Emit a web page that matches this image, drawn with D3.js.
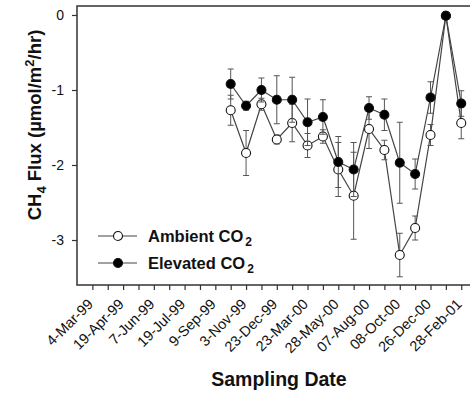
<!DOCTYPE html>
<html>
<head>
<meta charset="utf-8">
<script src="https://cdn.jsdelivr.net/npm/d3@7"></script>
<style>
  body { margin: 0; background: #fff; }
  svg { display: block; font-family: "Liberation Sans", Arial, sans-serif; }
</style>
</head>
<body>
<div id="chart"></div>
<script>
// categorias do eixo x (25 posições, rótulo em posições pares)
const tickLabels = ["4-Mar-99", "", "19-Apr-99", "", "7-Jun-99", "", "19-Jul-99", "", "9-Sep-99", "",
    "3-Nov-99", "", "23-Dec-99", "", "23-Mar-00", "", "28-May-00", "", "07-Aug-00", "",
    "08-Oct-00", "", "26-Dec-00", "", "28-Feb-01"];

// posições das coletas no eixo
const sampleSlots = [9, 10, 11, 12, 13, 14, 15, 16, 17, 18, 19, 20, 21, 22, 23, 24];

const ambient = [-1.27, -1.84, -1.19, -1.66, -1.44, -1.74, -1.62, -2.06, -2.41, -1.52, -1.80, -3.20, -2.84, -1.60, -0.01, -1.44];
const ambientErr = [0.20, 0.30, 0.08, 0.06, 0.25, 0.16, 0.09, 0.36, 0.58, 0.26, 0.13, 0.29, 0.16, 0.14, 0.02, 0.21];

const elevated = [-0.92, -1.21, -1.00, -1.13, -1.13, -1.43, -1.36, -1.96, -2.06, -1.24, -1.33, -1.97, -2.12, -1.10, -0.01, -1.18];
const elevatedErr = [0.20, 0.06, 0.16, 0.32, 0.30, 0.31, 0.23, 0.34, 0.36, 0.15, 0.21, 0.54, 0.20, 0.21, 0.02, 0.17];

const yTicks = [0, -1, -2, -3];

const width = 470;
const height = 397;
const margin = { top: 6, right: -2, bottom: 112, left: 77 };

const svg = d3.select("#chart")
    .append("svg")
    .attr("width", width)
    .attr("height", height);

const xScale = d3.scaleLinear()
    .domain([-1, 24.7])
    .range([margin.left, width - margin.right]);

const yScale = d3.scaleLinear()
    .domain([-3.6, 0.12])
    .range([height - margin.bottom, margin.top]);

const axisColor = "#333";

// eixo y
const yAxis = d3.axisLeft(yScale)
    .tickValues(yTicks)
    .tickFormat(d => d)
    .tickSize(5)
    .tickPadding(8);

const gy = svg.append("g")
    .attr("transform", `translate(${margin.left},0)`)
    .call(yAxis);
gy.select(".domain").remove();
gy.selectAll("line").attr("stroke", axisColor).attr("stroke-width", 1.2);
gy.selectAll("text")
    .attr("fill", "#111")
    .style("font-size", "14px")
    .style("font-family", "inherit");

// eixo x
const xAxis = d3.axisBottom(xScale)
    .tickValues(d3.range(tickLabels.length))
    .tickFormat(i => tickLabels[i])
    .tickSize(5)
    .tickPadding(4);

const gx = svg.append("g")
    .attr("transform", `translate(0,${height - margin.bottom})`)
    .call(xAxis);
gx.select(".domain").remove();
gx.selectAll("line").attr("stroke", axisColor).attr("stroke-width", 1.2);
gx.selectAll("text")
    .attr("fill", "#111")
    .style("font-size", "14.5px")
    .style("font-family", "inherit")
    .attr("text-anchor", "end")
    .attr("y", 0)
    .attr("dy", 0)
    .attr("transform", "translate(1,20) rotate(-45)");

// moldura
svg.append("rect")
    .attr("x", margin.left)
    .attr("y", margin.top)
    .attr("width", width - margin.right - margin.left)
    .attr("height", height - margin.bottom - margin.top)
    .attr("fill", "none")
    .attr("stroke", axisColor)
    .attr("stroke-width", 1.5);

function drawSeries(values, errs, filled) {
    const pts = values.map((v, i) => ({ x: sampleSlots[i], v: v, e: errs[i] }));
    const g = svg.append("g");

    const line = d3.line()
        .x(d => xScale(d.x))
        .y(d => yScale(d.v));

    g.append("path")
        .datum(pts)
        .attr("fill", "none")
        .attr("stroke", "#444")
        .attr("stroke-width", 1.2)
        .attr("d", line);

    const eb = g.selectAll(".err")
        .data(pts)
        .enter()
        .append("g")
        .attr("class", "err")
        .attr("stroke", "#555")
        .attr("stroke-width", 1);

    eb.append("line")
        .attr("x1", d => xScale(d.x))
        .attr("x2", d => xScale(d.x))
        .attr("y1", d => yScale(d.v + d.e))
        .attr("y2", d => yScale(d.v - d.e));
    eb.append("line")
        .attr("x1", d => xScale(d.x) - 3)
        .attr("x2", d => xScale(d.x) + 3)
        .attr("y1", d => yScale(d.v + d.e))
        .attr("y2", d => yScale(d.v + d.e));
    eb.append("line")
        .attr("x1", d => xScale(d.x) - 3)
        .attr("x2", d => xScale(d.x) + 3)
        .attr("y1", d => yScale(d.v - d.e))
        .attr("y2", d => yScale(d.v - d.e));

    g.selectAll("circle")
        .data(pts)
        .enter()
        .append("circle")
        .attr("cx", d => xScale(d.x))
        .attr("cy", d => yScale(d.v))
        .attr("r", 4.5)
        .attr("fill", filled ? "#000" : "#fff")
        .attr("stroke", "#111")
        .attr("stroke-width", 1.1);
}

drawSeries(ambient, ambientErr, false);
drawSeries(elevated, elevatedErr, true);

// legenda
const legendItems = [
    { name: "Ambient CO", filled: false, y: 236 },
    { name: "Elevated CO", filled: true, y: 263 }
];

const lg = svg.selectAll(".legend")
    .data(legendItems)
    .enter()
    .append("g")
    .attr("class", "legend")
    .attr("transform", d => `translate(98,${d.y})`);

lg.append("line")
    .attr("x1", 0)
    .attr("x2", 39)
    .attr("stroke", "#444")
    .attr("stroke-width", 1.2);

lg.append("circle")
    .attr("cx", 20)
    .attr("r", 4.5)
    .attr("fill", d => d.filled ? "#000" : "#fff")
    .attr("stroke", "#111")
    .attr("stroke-width", 1.1);

const lt = lg.append("text")
    .attr("x", 50)
    .attr("dy", "0.36em")
    .attr("fill", "#111")
    .style("font-size", "16.5px")
    .style("font-weight", "bold");
lt.append("tspan").text(d => d.name);
lt.append("tspan")
    .attr("dx", 2)
    .attr("dy", 4)
    .style("font-size", "12px")
    .text("2");

// título do eixo y
const yTitle = svg.append("text")
    .attr("transform", "translate(41,125) rotate(-90)")
    .attr("text-anchor", "middle")
    .attr("fill", "#111")
    .style("font-size", "18.5px")
    .style("font-weight", "bold");
yTitle.append("tspan").text("CH");
yTitle.append("tspan").attr("dy", 5).style("font-size", "13px").text("4");
yTitle.append("tspan").attr("dy", -5).text(" Flux (\u00B5mol/m");
yTitle.append("tspan").attr("dy", -7).style("font-size", "13px").text("2");
yTitle.append("tspan").attr("dy", 7).text("/hr)");

// título do eixo x
svg.append("text")
    .attr("x", 279)
    .attr("y", 386)
    .attr("text-anchor", "middle")
    .attr("fill", "#111")
    .style("font-size", "19.5px")
    .style("font-weight", "bold")
    .text("Sampling Date");
</script>
</body>
</html>
